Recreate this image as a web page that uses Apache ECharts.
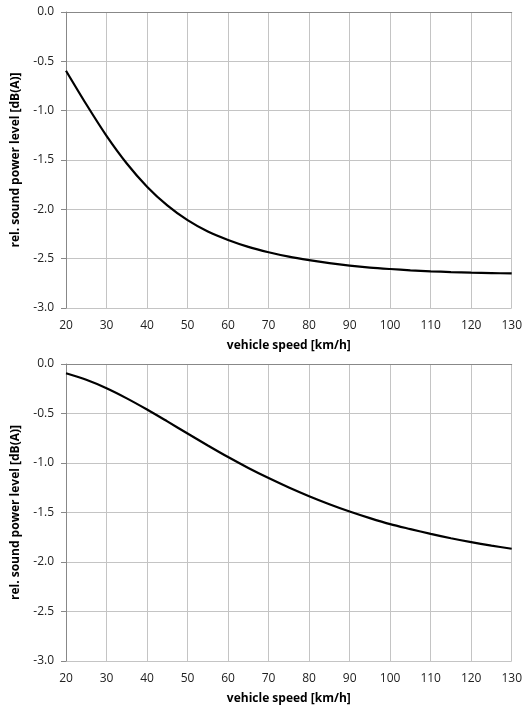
<!DOCTYPE html>
<html><head><meta charset="utf-8">
<script src="https://cdn.jsdelivr.net/npm/echarts@6/dist/echarts.min.js"></script>
<style>html,body{margin:0;padding:0;background:#fff}#c{width:525px;height:709px}</style>
</head><body><div id="c"></div>
<script>
const speeds = [20,25,30,35,40,45,50,55,60,65,70,75,80,85,90,95,100,105,110,115,120,125,130];
const level1 = [-0.595,-0.935,-1.255,-1.535,-1.77,-1.96,-2.11,-2.225,-2.31,-2.38,-2.435,-2.48,-2.515,-2.545,-2.57,-2.59,-2.605,-2.618,-2.628,-2.636,-2.642,-2.646,-2.65];
const level2 = [-0.094,-0.16,-0.245,-0.347,-0.46,-0.58,-0.702,-0.823,-0.94,-1.05,-1.152,-1.247,-1.335,-1.416,-1.49,-1.557,-1.618,-1.668,-1.716,-1.76,-1.80,-1.835,-1.866];

const font = 'Open Sans';
function xAx(i){return {type:'value',gridIndex:i,min:20,max:130,interval:10,
  name:'vehicle speed [km/h]',nameLocation:'middle',nameGap:32,
  nameTextStyle:{fontFamily:font,fontWeight:'bold',fontSize:12,color:'#000'},
  axisLine:{show:true,lineStyle:{color:'#888',width:1}},axisTick:{show:false},
  axisLabel:{fontFamily:font,fontSize:12,color:'#222',margin:12},
  splitLine:{show:true,lineStyle:{color:'#c4c4c4',width:1}}};}
function yAx(i){return {type:'value',gridIndex:i,min:-3,max:0,interval:0.5,
  name:'rel. sound power level [dB(A)]',nameLocation:'middle',nameGap:44,
  nameTextStyle:{fontFamily:font,fontWeight:'bold',fontSize:12,color:'#000'},
  axisLine:{show:true,lineStyle:{color:'#888',width:1}},
  axisTick:{show:true,length:5,lineStyle:{color:'#888'}},
  axisLabel:{fontFamily:font,fontSize:12,color:'#222',margin:12,formatter:v=>v.toFixed(1)},
  splitLine:{show:true,lineStyle:{color:'#c4c4c4',width:1}}};}
const chart = echarts.init(document.getElementById('c'),null,{renderer:'canvas'});
chart.setOption({
  animation:false,
  grid:[{left:66,top:12,width:448,height:296},{left:66,top:364,width:448,height:297}],
  xAxis:[xAx(0),xAx(1)],
  yAxis:[yAx(0),yAx(1)],
  series:[
    {type:'line',xAxisIndex:0,yAxisIndex:0,data:speeds.map((s,i)=>[s,level1[i]]),smooth:0.3,showSymbol:false,lineStyle:{color:'#000',width:2.2}},
    {type:'line',xAxisIndex:1,yAxisIndex:1,data:speeds.map((s,i)=>[s,level2[i]]),smooth:0.3,showSymbol:false,lineStyle:{color:'#000',width:2.2}}
  ]
});
</script></body></html>
